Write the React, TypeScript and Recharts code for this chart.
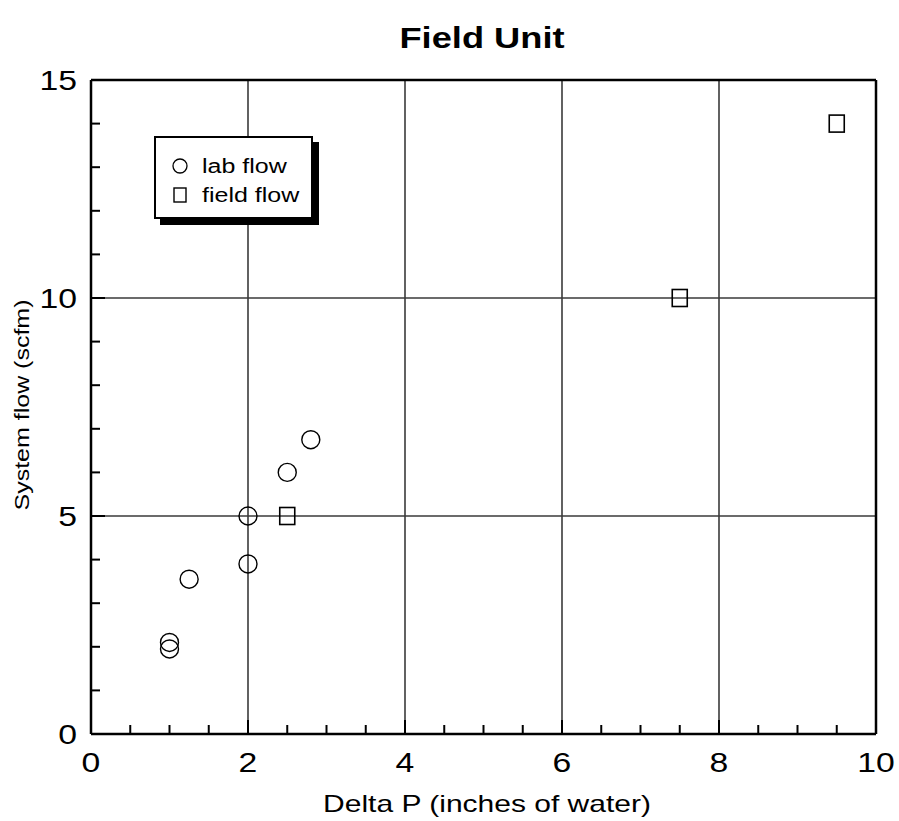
import React from 'react';
import { ScatterChart, Scatter, XAxis, YAxis, ReferenceLine } from 'recharts';

const labX = [1, 1, 1.25, 2, 2, 2.5, 2.8];
const labY = [2.1, 1.95, 3.55, 3.9, 5.0, 6.0, 6.75];
const fieldX = [2.5, 7.5, 9.5];
const fieldY = [5.0, 10.0, 14.0];

const xTicks = [0, 0.5, 1, 1.5, 2, 2.5, 3, 3.5, 4, 4.5, 5, 5.5, 6, 6.5, 7, 7.5, 8, 8.5, 9, 9.5, 10];
const yTicks = [0, 1, 2, 3, 4, 5, 6, 7, 8, 9, 10, 11, 12, 13, 14, 15];
const xGrid = [2, 4, 6, 8];
const yGrid = [5, 10];

const labData = labX.map((x, i) => ({ x, y: labY[i] }));
const fieldData = fieldX.map((x, i) => ({ x, y: fieldY[i] }));

const FONT = '"Liberation Sans", Arial, Helvetica, sans-serif';
const AXIS = { stroke: '#000', strokeWidth: 2.5 };
const STRETCH = 1.25; // the scanned lettering is wider than Arial

// text widened horizontally around its anchor point
const SText = ({ x, y, size, anchor = 'middle', weight = 'normal', rotate = 0, children }: any) => (
  <text
    transform={`translate(${x},${y}) rotate(${rotate}) scale(${STRETCH},1)`}
    textAnchor={anchor}
    fontSize={size}
    fontWeight={weight}
    fontFamily={FONT}
    fill="#000"
  >
    {children}
  </text>
);

const BottomTick = ({ x, y, payload }: any) => {
  const v = payload.value;
  const major = v % 2 === 0;
  return (
    <g>
      <line x1={x} x2={x} y1={y} y2={y - (major ? 14 : 9)} stroke="#000" strokeWidth={2} />
      {major && <SText x={x} y={y + 38} size={27}>{v}</SText>}
    </g>
  );
};

const TopTick = ({ x, y, payload }: any) => {
  const major = payload.value % 2 === 0;
  return <line x1={x} x2={x} y1={y} y2={y + (major ? 14 : 9)} stroke="#000" strokeWidth={2} />;
};

const LeftTick = ({ x, y, payload }: any) => {
  const v = payload.value;
  const major = v % 5 === 0;
  return (
    <g>
      <line x1={x} x2={x + (major ? 14 : 9)} y1={y} y2={y} stroke="#000" strokeWidth={2} />
      {major && <SText x={x - 14} y={y + 10} size={27} anchor="end">{v}</SText>}
    </g>
  );
};

const RightTick = ({ x, y, payload }: any) => {
  const major = payload.value % 5 === 0;
  return <line x1={x} x2={x - (major ? 14 : 9)} y1={y} y2={y} stroke="#000" strokeWidth={2} />;
};

const CircleMark = ({ cx, cy }: any) => (
  <circle cx={cx} cy={cy} r={9} fill="none" stroke="#000" strokeWidth={1.4} />
);

const SquareMark = ({ cx, cy }: any) => (
  <rect x={cx - 7.5} y={cy - 8.5} width={15} height={17} fill="none" stroke="#000" strokeWidth={1.6} />
);

// title, axis titles and the framed legend box
const Overlay = () => (
  <svg width={899} height={821} style={{ position: 'absolute', left: 0, top: 0, pointerEvents: 'none' }}>
    <SText x={482} y={48} size={29} weight="bold">Field Unit</SText>
    <SText x={487} y={812} size={24}>Delta P (inches of water)</SText>
    <SText x={29} y={405} size={20} rotate={-90}>System flow (scfm)</SText>
    <rect x={160} y={142} width={159} height={83} fill="#000" />
    <rect x={155} y={137} width={157} height={81} fill="#fff" stroke="#000" strokeWidth={2} />
    <circle cx={180} cy={166} r={7} fill="none" stroke="#000" strokeWidth={1.3} />
    <SText x={202} y={173} size={20} anchor="start">lab flow</SText>
    <rect x={174} y={188} width={12} height={14} fill="none" stroke="#000" strokeWidth={1.4} />
    <SText x={202} y={202} size={20} anchor="start">field flow</SText>
  </svg>
);

export default function App() {
  return (
    <div style={{ position: 'absolute', left: 0, top: 0, width: 899, height: 821, background: '#fff' }}>
      <ScatterChart width={899} height={821} margin={{ top: 79, right: 22, bottom: 27, left: 0 }}>
        <XAxis
          xAxisId="b" type="number" dataKey="x" domain={[0, 10]} ticks={xTicks} interval={0}
          height={60} tickSize={0} tickMargin={0} tickLine={false} axisLine={AXIS} tick={<BottomTick />}
        />
        <XAxis
          xAxisId="t" orientation="top" type="number" dataKey="x" domain={[0, 10]} ticks={xTicks} interval={0}
          height={1} tickSize={0} tickMargin={0} tickLine={false} axisLine={AXIS} tick={<TopTick />}
        />
        <YAxis
          yAxisId="l" type="number" dataKey="y" domain={[0, 15]} ticks={yTicks} interval={0}
          width={91} tickSize={0} tickMargin={0} tickLine={false} axisLine={AXIS} tick={<LeftTick />}
        />
        <YAxis
          yAxisId="r" orientation="right" type="number" dataKey="y" domain={[0, 15]} ticks={yTicks} interval={0}
          width={1} tickSize={0} tickMargin={0} tickLine={false} axisLine={AXIS} tick={<RightTick />}
        />
        {xGrid.map(v => (
          <ReferenceLine key={`gx${v}`} xAxisId="b" yAxisId="l" x={v} stroke="#3a3a3a" strokeWidth={1.6} />
        ))}
        {yGrid.map(v => (
          <ReferenceLine key={`gy${v}`} xAxisId="b" yAxisId="l" y={v} stroke="#3a3a3a" strokeWidth={1.6} />
        ))}
        <Scatter name="lab flow" data={labData} xAxisId="b" yAxisId="l" shape={<CircleMark />} isAnimationActive={false} />
        <Scatter name="field flow" data={fieldData} xAxisId="b" yAxisId="l" shape={<SquareMark />} isAnimationActive={false} />
      </ScatterChart>
      <Overlay />
    </div>
  );
}
